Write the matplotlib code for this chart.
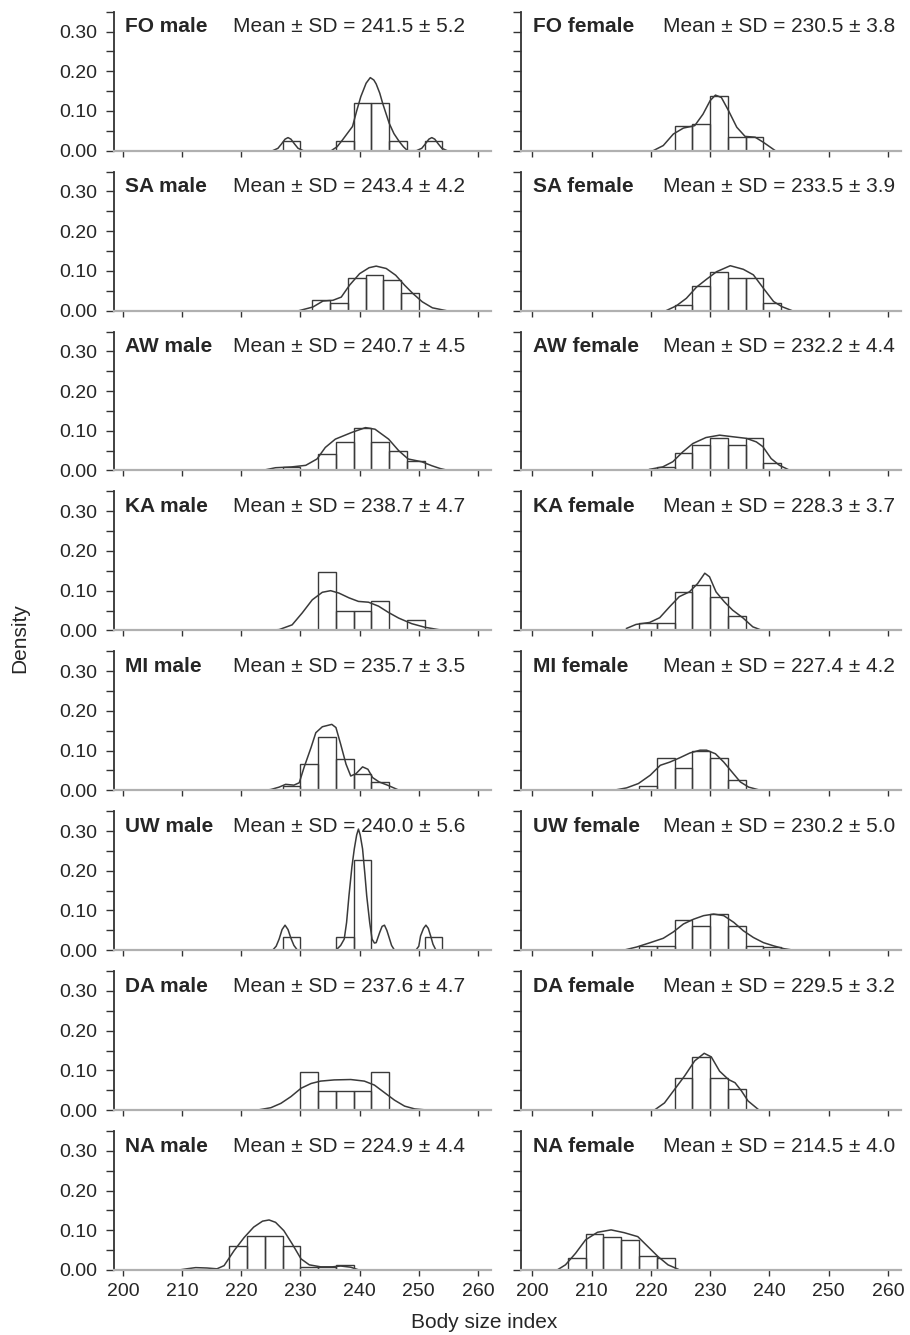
import matplotlib.pyplot as plt
from matplotlib.ticker import MultipleLocator

plt.rcParams["font.family"] = ["Liberation Sans", "DejaVu Sans"]

POPS = ["FO", "SA", "AW", "KA", "MI", "UW", "DA", "NA"]

MALE_MEAN = [241.5, 243.4, 240.7, 238.7, 235.7, 240.0, 237.6, 224.9]
MALE_SD = [5.2, 4.2, 4.5, 4.7, 3.5, 5.6, 4.7, 4.4]
FEMALE_MEAN = [230.5, 233.5, 232.2, 228.3, 227.4, 230.2, 229.5, 214.5]
FEMALE_SD = [3.8, 3.9, 4.4, 3.7, 4.2, 5.0, 3.2, 4.0]

BIN_WIDTH = 3

# histogram: left edge of first bin + density of each 3-unit bin
MALE_BIN_START = [227, 232, 227, 233, 227, 227, 230, 218]
MALE_HEIGHTS = [
    [0.024, 0, 0, 0.024, 0.119, 0.119, 0.024, 0, 0.024],
    [0.026, 0.020, 0.082, 0.089, 0.076, 0.045],
    [0.009, 0, 0.041, 0.071, 0.108, 0.071, 0.048, 0.024],
    [0.148, 0.050, 0.050, 0.075, 0, 0.026],
    [0.011, 0.067, 0.133, 0.080, 0.042, 0.022],
    [0.032, 0, 0, 0.032, 0.228, 0, 0, 0, 0.032],
    [0.097, 0.047, 0.047, 0.047, 0.097],
    [0.061, 0.086, 0.086, 0.061, 0.007, 0.007, 0.013],
]
FEMALE_BIN_START = [224, 224, 221, 218, 218, 218, 224, 206]
FEMALE_HEIGHTS = [
    [0.062, 0.067, 0.137, 0.035, 0.035],
    [0.014, 0.061, 0.096, 0.082, 0.082, 0.018],
    [0.009, 0.045, 0.064, 0.081, 0.064, 0.082, 0.018],
    [0.019, 0.019, 0.097, 0.114, 0.083, 0.037],
    [0.010, 0.082, 0.055, 0.098, 0.082, 0.025],
    [0.011, 0.011, 0.076, 0.061, 0.091, 0.061, 0.011, 0.008],
    [0.080, 0.134, 0.080, 0.052],
    [0.029, 0.090, 0.084, 0.076, 0.036, 0.029],
]

# density curves
MALE_CURVE_X = [
    [225.3, 226.2, 226.8, 227.4, 227.9, 228.4, 229.0, 229.6, 230.5,
     235.2, 236.2, 237.1, 238.0, 238.8, 239.5, 240.2, 241.1, 241.8, 242.4, 242.8,
     243.4, 243.9, 245.0, 245.8, 246.7, 247.4, 248.1,
     249.6, 250.5, 251.1, 251.7, 252.2, 252.7, 253.3, 253.9, 254.8],
    [229.8, 232.1, 233.8, 235.5, 236.9, 238.3, 240.0, 241.6, 242.8, 244.5,
     246.1, 247.6, 249.0, 250.6, 252.3, 254.6],
    [223.5, 225.8, 228.5, 230.9, 232.8, 234.2, 235.9, 238.7, 241.0, 242.6,
     244.9, 246.6, 248.2, 250.5, 252.2, 253.6, 255.0],
    [224.5, 226.4, 228.6, 230.3, 232.0, 233.7, 235.1, 236.5, 238.2, 239.8,
     241.5, 243.2, 244.9, 246.6, 248.8, 251.0, 253.3, 254.5],
    [224.0, 225.0, 226.4, 227.5, 228.9, 229.8, 230.6, 231.8, 232.6, 233.7,
     235.3, 236.0, 236.8, 237.7, 238.5, 239.4, 240.5, 241.4, 242.2, 243.3,
     244.7, 246.7],
    [225.3, 225.9, 226.4, 226.9, 227.4, 227.9, 228.4, 228.9, 229.5,
     236.0, 236.8, 237.4, 237.8, 238.2, 238.7, 239.1, 239.5, 239.8, 240.1, 240.5,
     240.9, 241.2, 241.7, 242.1, 242.5, 242.8, 243.4, 243.8, 244.2, 244.6,
     244.9, 245.4, 245.9,
     249.5, 250.0, 250.3, 250.8, 251.2, 251.6, 252.0, 252.4, 252.9],
    [222.7, 225.0, 226.7, 228.4, 230.1, 231.8, 233.4, 235.7, 238.5, 240.8,
     242.5, 244.2, 245.9, 247.6, 249.3, 251.5],
    [209.5, 210.8, 212.3, 214.2, 215.9, 217.1, 218.8, 220.5, 222.1, 223.6,
     224.7, 225.8, 227.2, 228.6, 230.1, 231.5, 233.4, 235.4, 236.8, 238.5,
     239.9],
]
MALE_CURVE_Y = [
    [0, 0.006, 0.017, 0.029, 0.033, 0.029, 0.017, 0.006, 0,
     0, 0.010, 0.027, 0.045, 0.061, 0.100, 0.136, 0.170, 0.184, 0.178, 0.168,
     0.145, 0.119, 0.069, 0.043, 0.023, 0.010, 0,
     0, 0.006, 0.017, 0.029, 0.033, 0.029, 0.017, 0.006, 0],
    [0, 0.009, 0.024, 0.026, 0.034, 0.064, 0.093, 0.108, 0.112, 0.106,
     0.089, 0.064, 0.043, 0.022, 0.007, 0],
    [0, 0.007, 0.009, 0.013, 0.029, 0.058, 0.079, 0.096, 0.108, 0.104,
     0.079, 0.050, 0.029, 0.022, 0.012, 0.005, 0],
    [0, 0.002, 0.014, 0.044, 0.077, 0.096, 0.100, 0.094, 0.082, 0.073,
     0.071, 0.061, 0.045, 0.031, 0.017, 0.008, 0.002, 0],
    [0, 0.002, 0.008, 0.015, 0.013, 0.019, 0.057, 0.108, 0.145, 0.160,
     0.166, 0.158, 0.116, 0.066, 0.036, 0.042, 0.059, 0.053, 0.032, 0.021,
     0.013, 0],
    [0, 0.010, 0.028, 0.052, 0.063, 0.052, 0.030, 0.012, 0,
     0, 0.012, 0.028, 0.070, 0.137, 0.210, 0.255, 0.290, 0.305, 0.290, 0.255,
     0.190, 0.137, 0.070, 0.028, 0.018, 0.019, 0.045, 0.060, 0.063, 0.050,
     0.036, 0.012, 0,
     0, 0.010, 0.036, 0.055, 0.063, 0.055, 0.036, 0.015, 0],
    [0, 0.006, 0.017, 0.034, 0.055, 0.067, 0.073, 0.076, 0.077, 0.073,
     0.063, 0.044, 0.025, 0.010, 0.003, 0],
    [0, 0.003, 0.006, 0.005, 0.003, 0.011, 0.049, 0.082, 0.108, 0.123,
     0.126, 0.120, 0.099, 0.066, 0.028, 0.013, 0.008, 0.008, 0.010, 0.007,
     0],
]
FEMALE_CURVE_X = [
    [220.4, 222.1, 223.8, 225.5, 227.4, 228.8, 230.0, 230.9, 231.9, 233.1,
     234.5, 235.9, 237.6, 239.0, 241.0],
    [222.6, 224.3, 226.0, 227.7, 229.4, 231.1, 233.4, 235.6, 237.3, 239.0,
     240.7, 242.1, 243.8],
    [219.8, 222.0, 223.7, 225.4, 227.1, 229.3, 231.6, 233.8, 236.1, 237.8,
     238.9, 240.3, 241.7, 243.1],
    [215.9, 217.5, 219.8, 221.5, 223.2, 224.8, 226.5, 227.9, 229.1, 229.9,
     231.0, 232.4, 233.8, 235.5, 237.2, 238.6],
    [213.7, 215.9, 217.9, 219.9, 221.6, 223.2, 224.9, 226.6, 228.3, 229.4,
     230.9, 232.3, 233.7, 235.1, 236.5, 238.5],
    [215.4, 217.6, 219.9, 222.1, 223.8, 225.5, 227.2, 228.9, 230.6, 232.3,
     234.0, 235.6, 237.3, 239.0, 240.7, 242.4, 244.1],
    [220.6, 222.3, 224.0, 225.7, 227.4, 229.0, 230.2, 231.6, 233.1, 234.2,
     235.3, 236.4, 238.1],
    [204.2, 205.6, 207.3, 209.0, 211.0, 213.3, 215.5, 217.8, 219.5, 221.2,
     222.9, 224.6],
]
FEMALE_CURVE_Y = [
    [0, 0.013, 0.042, 0.057, 0.063, 0.092, 0.126, 0.140, 0.134, 0.101,
     0.059, 0.036, 0.034, 0.021, 0],
    [0, 0.012, 0.031, 0.059, 0.079, 0.098, 0.113, 0.104, 0.090, 0.056,
     0.023, 0.010, 0],
    [0.003, 0.009, 0.022, 0.047, 0.068, 0.083, 0.089, 0.085, 0.081, 0.072,
     0.060, 0.030, 0.013, 0.003],
    [0.005, 0.015, 0.020, 0.032, 0.060, 0.085, 0.097, 0.118, 0.144, 0.135,
     0.097, 0.072, 0.051, 0.032, 0.009, 0.001],
    [0, 0.006, 0.017, 0.038, 0.063, 0.071, 0.082, 0.094, 0.101, 0.101,
     0.092, 0.071, 0.046, 0.021, 0.008, 0],
    [0, 0.008, 0.019, 0.030, 0.046, 0.066, 0.078, 0.087, 0.091, 0.087,
     0.070, 0.049, 0.032, 0.019, 0.011, 0.004, 0],
    [0, 0.018, 0.052, 0.086, 0.124, 0.143, 0.134, 0.098, 0.077, 0.069,
     0.048, 0.023, 0.002],
    [0, 0.013, 0.042, 0.076, 0.095, 0.101, 0.094, 0.084, 0.059, 0.034,
     0.013, 0.002],
]

TEXT = "#262626"
LINE = "#3a3a3a"

fig = plt.figure(figsize=(9.1, 13.35), dpi=100)
W, H = 910, 1335

col_px = [(114, 377, (198.5, 262.2)), (521, 380, (198.1, 262.2))]
label_x = [0.03, 0.031]
mean_x = [0.316, 0.374]

for row, pop in enumerate(POPS):
    bottom_px = 150.7 + row * 159.9
    for col, sex in enumerate(("male", "female")):
        if col == 0:
            start, heights = MALE_BIN_START[row], MALE_HEIGHTS[row]
            cx, cy = MALE_CURVE_X[row], MALE_CURVE_Y[row]
            mean, sd = MALE_MEAN[row], MALE_SD[row]
        else:
            start, heights = FEMALE_BIN_START[row], FEMALE_HEIGHTS[row]
            cx, cy = FEMALE_CURVE_X[row], FEMALE_CURVE_Y[row]
            mean, sd = FEMALE_MEAN[row], FEMALE_SD[row]

        x0, w, xlim = col_px[col]
        ax = fig.add_axes([x0 / W, 1 - bottom_px / H, w / W, 139 / H])

        lefts = [start + i * BIN_WIDTH for i, h in enumerate(heights) if h > 0]
        hs = [h for h in heights if h > 0]
        ax.bar(lefts, hs, width=BIN_WIDTH, align="edge", fill=False,
               edgecolor=LINE, linewidth=1.0)
        ax.plot(cx, cy, color=LINE, linewidth=1.1)

        ax.set_xlim(*xlim)
        ax.set_ylim(0, 0.35)
        ax.xaxis.set_major_locator(MultipleLocator(10))
        ax.yaxis.set_major_locator(MultipleLocator(0.1))
        ax.yaxis.set_minor_locator(MultipleLocator(0.05))

        for s in ("top", "right"):
            ax.spines[s].set_visible(False)
        ax.spines["left"].set_color("#333333")
        ax.spines["left"].set_linewidth(1.3)
        ax.spines["bottom"].set_color("#b0b0b0")
        ax.spines["bottom"].set_linewidth(1.6)

        ax.tick_params(axis="y", which="both", length=6, width=1.0,
                       color="#333333", labelsize=14, labelcolor=TEXT, pad=6)
        ax.tick_params(axis="x", length=4, width=1.0, color="#333333",
                       labelsize=14, labelcolor=TEXT, pad=5)
        if col == 0:
            ax.set_yticks([0, 0.1, 0.2, 0.3])
            ax.set_yticklabels(["0.00", "0.10", "0.20", "0.30"])
        else:
            ax.tick_params(axis="y", labelleft=False)
        if row != len(POPS) - 1:
            ax.tick_params(axis="x", labelbottom=False)

        ax.text(label_x[col], 0.89, f"{pop} {sex}", transform=ax.transAxes,
                fontsize=15, fontweight="bold", color=TEXT, va="center")
        ax.text(mean_x[col], 0.89, f"Mean \u00b1 SD = {mean:.1f} \u00b1 {sd:.1f}",
                transform=ax.transAxes, fontsize=15, color=TEXT, va="center")

fig.text(20 / W, 1 - 638 / H, "Density", rotation=90, fontsize=15,
         color=TEXT, ha="center", va="center")
fig.text(484 / W, 1 - 1323 / H, "Body size index", fontsize=15,
         color=TEXT, ha="center", va="center")

fig.savefig("out.png", dpi=100)
